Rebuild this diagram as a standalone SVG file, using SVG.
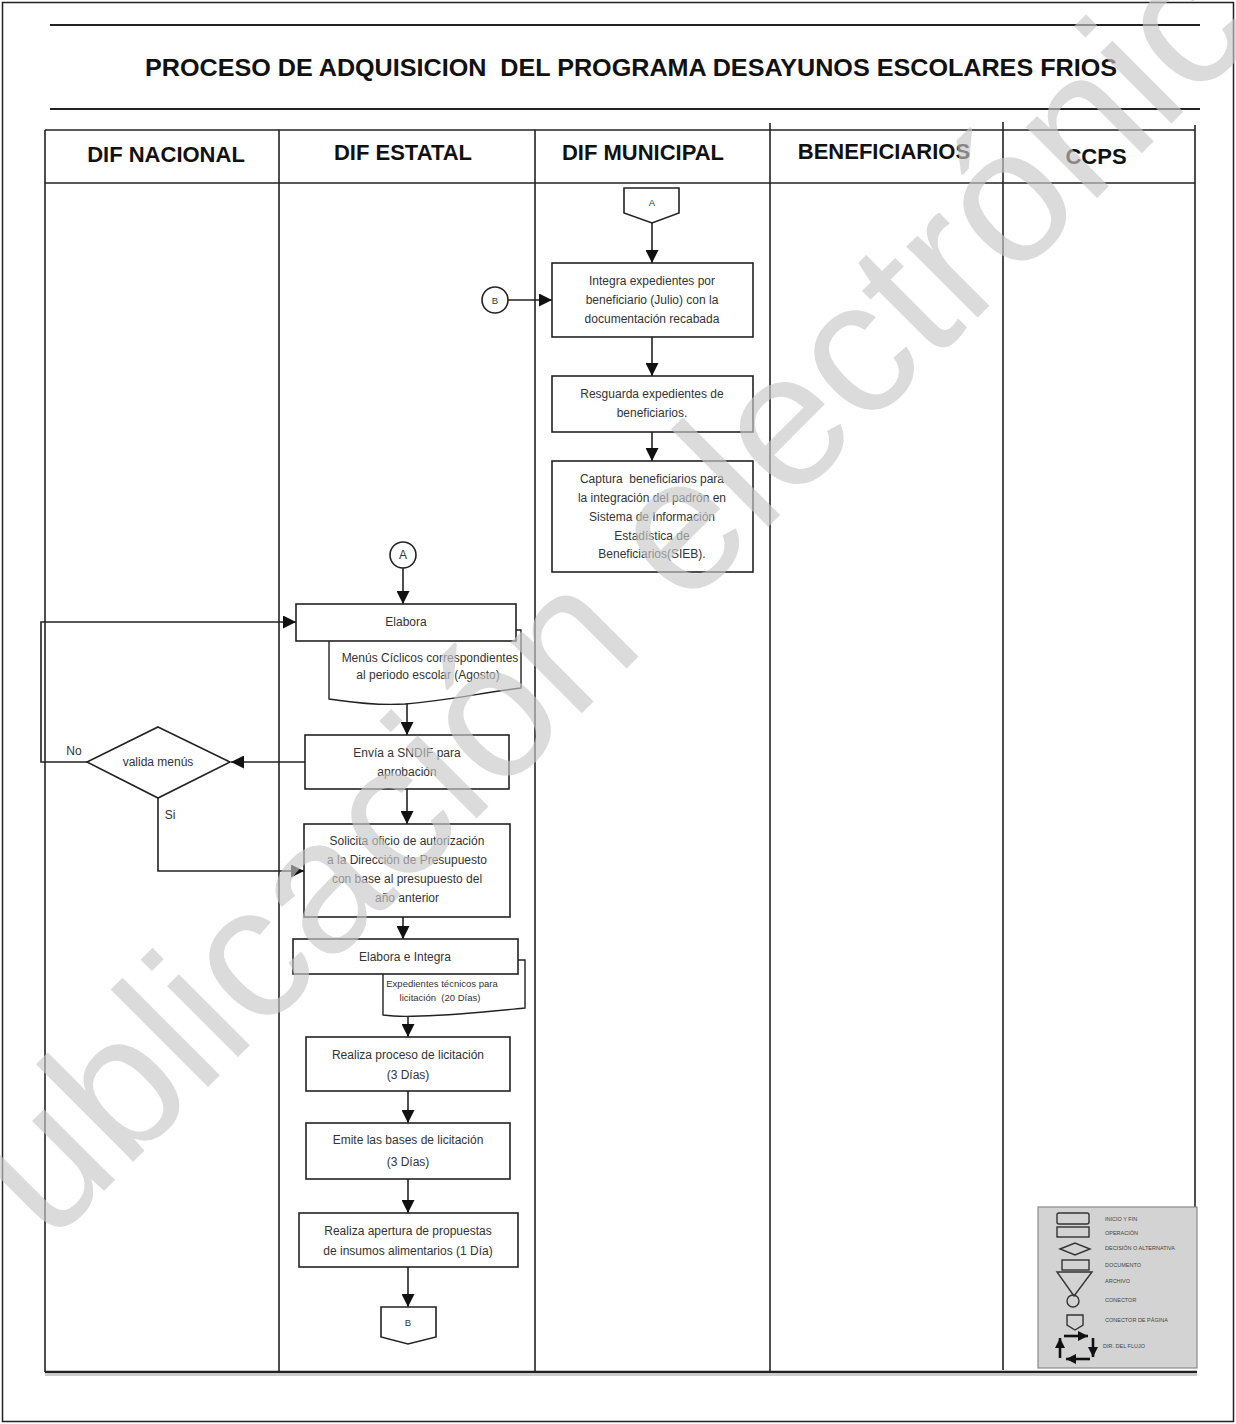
<svg xmlns="http://www.w3.org/2000/svg" width="1236" height="1424" viewBox="0 0 1236 1424">
<style>
  text{white-space:pre}
  .frame{fill:none;stroke:#222;stroke-width:1.5}
  .rule{stroke:#222;stroke-width:2}
  .lane{stroke:#222;stroke-width:1.6}
  .box{fill:#fff;stroke:#222;stroke-width:1.6}
  .doc{fill:#fff;stroke:#222;stroke-width:1.4}
  .conn{fill:none;stroke:#222;stroke-width:1.6}
  .t{font-family:"Liberation Sans",Arial,sans-serif;font-size:12px;fill:#333;text-anchor:middle}
  .ts{font-family:"Liberation Sans",Arial,sans-serif;font-size:9.5px;fill:#333;text-anchor:middle}
  .hd{font-family:"Liberation Sans",Arial,sans-serif;font-size:22px;font-weight:bold;fill:#111;text-anchor:middle}
  .title{font-family:"Liberation Sans",Arial,sans-serif;font-size:23px;font-weight:bold;fill:#111}
  .lg{font-family:"Liberation Sans",Arial,sans-serif;font-size:5.5px;fill:#444}
  .lgs{fill:none;stroke:#333;stroke-width:1.4}
  .wm{font-family:"Liberation Sans",Arial,sans-serif;font-size:190px;fill:#c8c8c8;fill-opacity:0.65}
</style>
<defs>
  <marker id="ah" viewBox="0 0 10 10" refX="10" refY="5" markerWidth="10" markerHeight="10" markerUnits="userSpaceOnUse" orient="auto">
    <path d="M0,0 L10,5 L0,10 z" fill="#111"/>
  </marker>
  <marker id="ahb" viewBox="0 0 10 10" refX="10" refY="5" markerWidth="13" markerHeight="13" markerUnits="userSpaceOnUse" orient="auto">
    <path d="M0,0 L10,5 L0,10 z" fill="#111"/>
  </marker>
</defs>

<!-- page frame and title -->
<rect class="frame" x="2.5" y="2.5" width="1231" height="1419"/>
<line class="rule" x1="50" y1="25" x2="1200" y2="25"/>
<text class="title" x="145" y="76" textLength="972" lengthAdjust="spacingAndGlyphs">PROCESO DE ADQUISICION  DEL PROGRAMA DESAYUNOS ESCOLARES FRIOS</text>
<line class="rule" x1="50" y1="109" x2="1200" y2="109"/>

<!-- swimlane table -->
<g id="lanes">
  <line class="lane" x1="45" y1="130" x2="1195" y2="130"/>
  <line class="lane" x1="45" y1="183" x2="1195" y2="183"/>
  <line class="lane" x1="45" y1="130" x2="45" y2="1372"/>
  <line class="lane" x1="279" y1="130" x2="279" y2="1372"/>
  <line class="lane" x1="535" y1="130" x2="535" y2="1372"/>
  <line class="lane" x1="770" y1="123" x2="770" y2="1372"/>
  <line class="lane" x1="1003" y1="122" x2="1003" y2="1370"/>
  <line class="lane" x1="1195" y1="125" x2="1195" y2="1207"/>
  <line x1="45" y1="1372" x2="1197" y2="1372" stroke="#222" stroke-width="2.6"/>
  <line x1="45" y1="1375" x2="1197" y2="1375" stroke="#999" stroke-width="1"/>
  <text class="hd" x="166" y="162">DIF NACIONAL</text>
  <text class="hd" x="403" y="160">DIF ESTATAL</text>
  <text class="hd" x="643" y="160">DIF MUNICIPAL</text>
  <text class="hd" x="884" y="159">BENEFICIARIOS</text>
  <text class="hd" x="1096" y="164">CCPS</text>
</g>

<!-- connectors -->
<g id="connectors">
  <line class="conn" x1="652" y1="223" x2="652" y2="263" marker-end="url(#ahb)"/>
  <line class="conn" x1="508" y1="300" x2="552" y2="300" marker-end="url(#ahb)"/>
  <line class="conn" x1="652" y1="337" x2="652" y2="376" marker-end="url(#ahb)"/>
  <line class="conn" x1="652" y1="432" x2="652" y2="461" marker-end="url(#ahb)"/>
  <line class="conn" x1="403" y1="568" x2="403" y2="604" marker-end="url(#ahb)"/>
  <line class="conn" x1="407" y1="701" x2="407" y2="735" marker-end="url(#ahb)"/>
  <line class="conn" x1="305" y1="762" x2="231" y2="762" marker-end="url(#ahb)"/>
  <polyline class="conn" points="87,762 41,762 41,622 296,622" marker-end="url(#ahb)"/>
  <polyline class="conn" points="158,798 158,871 304,871" marker-end="url(#ahb)"/>
  <line class="conn" x1="407" y1="789" x2="407" y2="824" marker-end="url(#ahb)"/>
  <line class="conn" x1="403" y1="917" x2="403" y2="939" marker-end="url(#ahb)"/>
  <line class="conn" x1="408" y1="1012" x2="408" y2="1037" marker-end="url(#ahb)"/>
  <line class="conn" x1="408" y1="1091" x2="408" y2="1123" marker-end="url(#ahb)"/>
  <line class="conn" x1="408" y1="1179" x2="408" y2="1213" marker-end="url(#ahb)"/>
  <line class="conn" x1="408" y1="1267" x2="408" y2="1307" marker-end="url(#ahb)"/>
  <text class="t" x="74" y="755">No</text>
  <text class="t" x="170" y="819">Si</text>
</g>

<!-- DIF MUNICIPAL nodes -->
<g id="conA-top">
  <path class="box" d="M624,188 H679 V213 L652,223 L624,213 Z"/>
  <text class="ts" x="652" y="206">A</text>
</g>
<g id="conB-left">
  <circle class="box" cx="495" cy="300" r="13"/>
  <text class="ts" x="495" y="304">B</text>
</g>
<g id="integra">
  <rect class="box" x="552" y="263" width="201" height="74"/>
  <text class="t" x="652" y="285">Integra expedientes por</text>
  <text class="t" x="652" y="304">beneficiario (Julio) con la</text>
  <text class="t" x="652" y="323">documentación recabada</text>
</g>
<g id="resguarda">
  <rect class="box" x="552" y="376" width="201" height="56"/>
  <text class="t" x="652" y="398">Resguarda expedientes de</text>
  <text class="t" x="652" y="417">beneficiarios.</text>
</g>
<g id="captura">
  <rect class="box" x="552" y="461" width="201" height="111"/>
  <text class="t" x="652" y="483">Captura  beneficiarios para</text>
  <text class="t" x="652" y="502">la integración del padrón en</text>
  <text class="t" x="652" y="521">Sistema de Información</text>
  <text class="t" x="652" y="540">Estadística de</text>
  <text class="t" x="652" y="558">Beneficiarios(SIEB).</text>
</g>

<!-- DIF ESTATAL nodes -->
<g id="conA">
  <circle class="box" cx="403" cy="555" r="13"/>
  <text class="t" x="403" y="559">A</text>
</g>
<g id="elabora">
  <path class="doc" d="M329,630 H521 V688 C480,693 450,700 405,704 C370,706 345,701 329,699 Z"/>
  <rect class="box" x="296" y="604" width="220" height="37"/>
  <text class="t" x="406" y="626">Elabora</text>
  <text class="t" x="430" y="662">Menús Cíclicos correspondientes</text>
  <text class="t" x="428" y="679">al periodo escolar (Agosto)</text>
</g>
<g id="envia">
  <rect class="box" x="305" y="735" width="204" height="54"/>
  <text class="t" x="407" y="757">Envía a SNDIF para</text>
  <text class="t" x="407" y="776">aprobación</text>
</g>
<g id="valida">
  <path class="box" d="M158,727 L230,762 L158,798 L87,762 Z"/>
  <text class="t" x="158" y="766">valida menús</text>
</g>
<g id="solicita">
  <rect class="box" x="304" y="824" width="206" height="93"/>
  <text class="t" x="407" y="845">Solicita oficio de autorización</text>
  <text class="t" x="407" y="864">a la Dirección de Presupuesto</text>
  <text class="t" x="407" y="883">con base al presupuesto del</text>
  <text class="t" x="407" y="902">año anterior</text>
</g>
<g id="elabora-integra">
  <path class="doc" d="M383,960 H525 V1008 C495,1011 460,1015 420,1016 C400,1017 390,1016 383,1015 Z"/>
  <rect class="box" x="293" y="939" width="225" height="35"/>
  <text class="t" x="405" y="961">Elabora e Integra</text>
  <text class="ts" x="442" y="987">Expedientes técnicos para</text>
  <text class="ts" x="440" y="1001">licitación  (20 Días)</text>
</g>
<g id="realiza-proceso">
  <rect class="box" x="306" y="1037" width="204" height="54"/>
  <text class="t" x="408" y="1059">Realiza proceso de licitación</text>
  <text class="t" x="408" y="1079">(3 Días)</text>
</g>
<g id="emite">
  <rect class="box" x="306" y="1123" width="204" height="56"/>
  <text class="t" x="408" y="1144">Emite las bases de licitación</text>
  <text class="t" x="408" y="1166">(3 Días)</text>
</g>
<g id="apertura">
  <rect class="box" x="299" y="1213" width="219" height="54"/>
  <text class="t" x="408" y="1235">Realiza apertura de propuestas</text>
  <text class="t" x="408" y="1255">de insumos alimentarios (1 Día)</text>
</g>
<g id="conB-bottom">
  <path class="box" d="M381,1307 H436 V1337 L408,1344 L381,1337 Z"/>
  <text class="ts" x="408" y="1326">B</text>
</g>

<!-- legend -->
<g id="legend">
  <rect x="1038" y="1207" width="159" height="161" fill="#d3d3d3" stroke="#8a8a8a" stroke-width="1.2"/>
  <rect class="lgs" x="1057" y="1213" width="32" height="11" rx="2"/>
  <rect class="lgs" x="1057" y="1227" width="32" height="10"/>
  <path class="lgs" d="M1060,1249 L1075,1243 L1090,1249 L1075,1255 Z"/>
  <rect class="lgs" x="1062" y="1260" width="27" height="10"/>
  <path class="lgs" d="M1057,1272 H1092 L1074,1296 Z"/>
  <circle class="lgs" cx="1073" cy="1301" r="6"/>
  <path class="lgs" d="M1067,1315 H1083 V1325 L1075,1330 L1067,1325 Z"/>
  <g stroke="#111" stroke-width="2.6" fill="none">
    <line x1="1060" y1="1358" x2="1060" y2="1338" marker-end="url(#ah)"/>
    <line x1="1064" y1="1336" x2="1088" y2="1336" marker-end="url(#ah)"/>
    <line x1="1093" y1="1338" x2="1093" y2="1357" marker-end="url(#ah)"/>
    <line x1="1090" y1="1359" x2="1066" y2="1359" marker-end="url(#ah)"/>
  </g>
  <text class="lg" x="1105" y="1221">INICIO Y FIN</text>
  <text class="lg" x="1105" y="1235">OPERACIÓN</text>
  <text class="lg" x="1105" y="1250">DECISIÓN O ALTERNATIVA</text>
  <text class="lg" x="1105" y="1267">DOCUMENTO</text>
  <text class="lg" x="1105" y="1283">ARCHIVO</text>
  <text class="lg" x="1105" y="1302">CONECTOR</text>
  <text class="lg" x="1105" y="1322">CONECTOR DE PÁGINA</text>
  <text class="lg" x="1103" y="1348">DIR. DEL FLUJO</text>
</g>

<!-- watermark -->
<text class="wm" transform="translate(-40,1335) rotate(-45)">Publicación electrónica</text>
</svg>
